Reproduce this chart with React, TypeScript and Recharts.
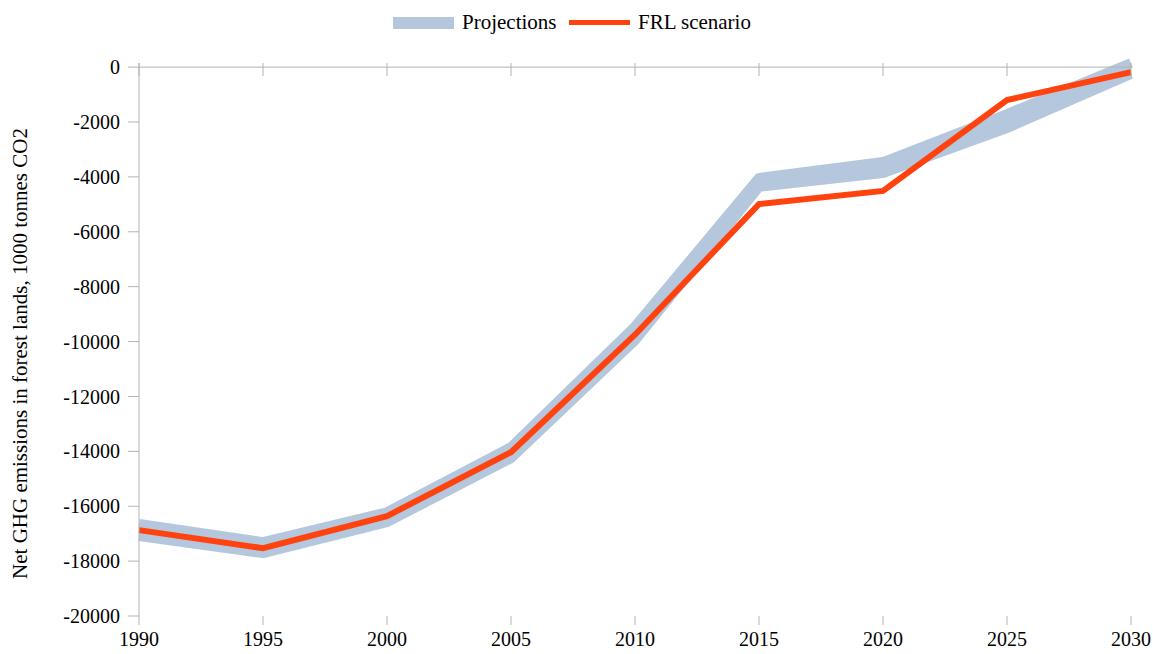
import {
  ComposedChart,
  Area,
  Line,
  XAxis,
  YAxis,
  ReferenceLine,
} from 'recharts';

const years = [1990, 1995, 2000, 2005, 2010, 2015, 2020, 2025, 2030];
const frlScenario = [-16870, -17530, -16360, -14030, -9750, -4990, -4510, -1200, -180];
const projectionsHigh = [-16650, -17310, -16220, -13850, -9450, -4040, -3460, -1710, 150];
const projectionsLow = [-17090, -17710, -16580, -14250, -9960, -4360, -3860, -2220, -250];
const yTicks = [0, -2000, -4000, -6000, -8000, -10000, -12000, -14000, -16000, -18000, -20000];

const data = years.map((year, i) => ({
  year,
  frl: frlScenario[i],
  proj: [projectionsLow[i], projectionsHigh[i]],
}));

const BAND = '#b4c7dc';
const FRL = '#ff420e';
const AXIS = '#b3b3b3';
const FONT = '"Liberation Serif", "Times New Roman", serif';

export default function App() {
  return (
    <div style={{ position: 'absolute', left: 0, top: 0, width: 1153, height: 654, fontFamily: FONT, background: '#fff' }}>
      <ComposedChart
        width={1153}
        height={654}
        data={data}
        margin={{ top: 63, right: 22, bottom: 0, left: 0 }}
      >
        <XAxis
          xAxisId="top"
          orientation="top"
          dataKey="year"
          type="number"
          domain={[1990, 2030]}
          ticks={years}
          height={1}
          mirror
          axisLine={false}
          tickLine={{ stroke: AXIS }}
          tickSize={13}
          tickFormatter={() => ''}
        />
        <XAxis
          dataKey="year"
          type="number"
          domain={[1990, 2030]}
          ticks={years}
          height={38}
          axisLine={false}
          tickLine={{ stroke: AXIS }}
          tickSize={9}
          tickMargin={7}
          tick={{ fill: '#000', fontSize: 20, fontFamily: FONT }}
        />
        <YAxis
          domain={[-20000, 0]}
          ticks={yTicks}
          width={139}
          stroke={AXIS}
          tickSize={11}
          tickMargin={8}
          tick={{ fill: '#000', fontSize: 20, fontFamily: FONT }}
          label={{
            value: 'Net GHG emissions in forest lands, 1000 tonnes CO2',
            angle: -90,
            position: 'center',
            dx: -50,
            dy: 14,
            fill: '#000',
            fontSize: 21,
            fontFamily: FONT,
          }}
        />
        <ReferenceLine y={0} stroke={AXIS} strokeWidth={1} />
        <Area
          dataKey="proj"
          type="linear"
          fill={BAND}
          fillOpacity={1}
          stroke={BAND}
          strokeWidth={10}
          strokeLinejoin="round"
          isAnimationActive={false}
        />
        <Line
          dataKey="frl"
          type="linear"
          stroke={FRL}
          strokeWidth={6}
          dot={false}
          activeDot={false}
          isAnimationActive={false}
        />
      </ComposedChart>
      <div style={{ position: 'absolute', left: 393, top: 17, width: 61, height: 12, background: BAND }} />
      <div style={{ position: 'absolute', left: 462, top: 12, fontSize: 21, lineHeight: '21px', color: '#000' }}>Projections</div>
      <div style={{ position: 'absolute', left: 569, top: 20, width: 61, height: 5, background: FRL }} />
      <div style={{ position: 'absolute', left: 638, top: 12, fontSize: 21, lineHeight: '21px', color: '#000' }}>FRL scenario</div>
    </div>
  );
}
